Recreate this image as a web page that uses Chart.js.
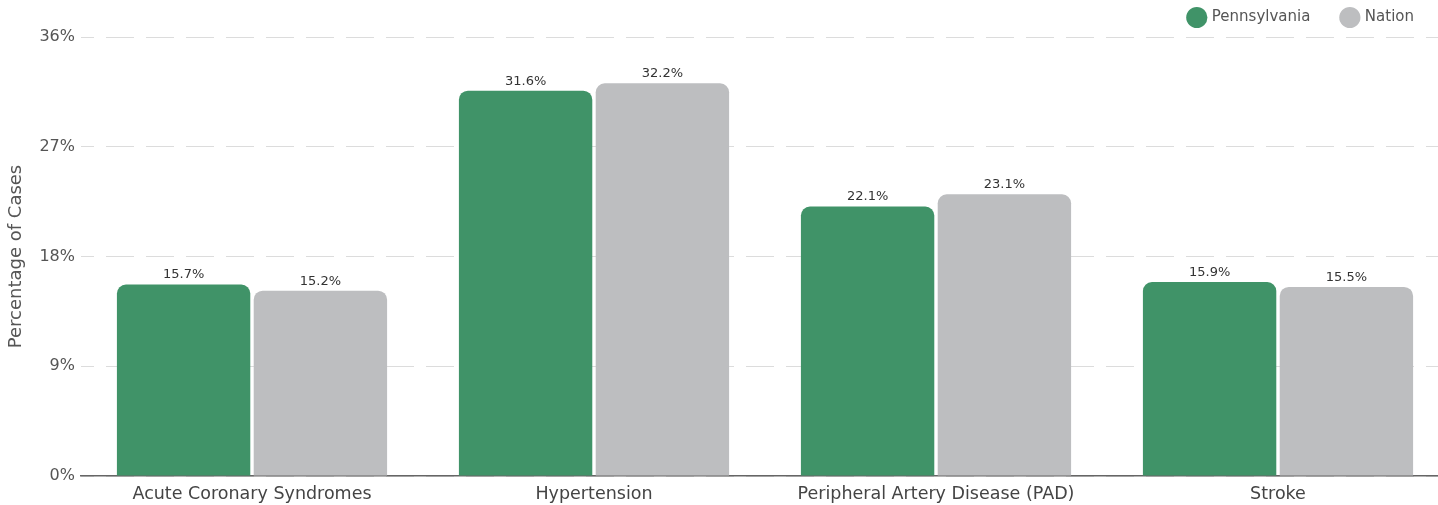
<!DOCTYPE html>
<html>
<head>
<meta charset="utf-8">
<script src="https://cdn.jsdelivr.net/npm/chart.js@4.4.1/dist/chart.umd.min.js"></script>
<style>
    html, body { margin: 0; padding: 0; background: #fff; overflow: hidden; }
    .chart_wrap { position: relative; width: 1452px; height: 505px; }
</style>
</head>
<body>
<div class="chart_wrap">
    <canvas id="chart"></canvas>
</div>
<script>
const categories = [
    "Acute Coronary Syndromes",
    "Hypertension",
    "Peripheral Artery Disease (PAD)",
    "Stroke",
];
const pennsylvaniaValues = [15.7, 31.6, 22.1, 15.9];
const nationValues = [15.2, 32.2, 23.1, 15.5];
const yTicks = [0, 9, 18, 27, 36];

const fontFamily = "'DejaVu Sans', sans-serif";

// labels on top of each bar
const barLabels = {
    id: "barLabels",
    afterDatasetsDraw(chart) {
        const {ctx} = chart;
        ctx.save();
        ctx.font = "13px " + fontFamily;
        ctx.fillStyle = "#333";
        ctx.textAlign = "center";
        ctx.textBaseline = "bottom";
        chart.data.datasets.forEach((ds, i) => {
            chart.getDatasetMeta(i).data.forEach((bar, j) => {
                ctx.fillText(ds.data[j].toFixed(1) + "%", bar.x, bar.y - 3);
            });
        });
        ctx.restore();
    },
};

// legend items need a wide gap but a short box: move the box up and in
const legendShift = {
    id: "legendShift",
    afterLayout(chart) {
        const lg = chart.legend;
        if (lg) {
            lg.top -= 22;
            lg.left -= 3;
            lg.right -= 3;
        }
    },
};

Chart.register(barLabels, legendShift);

new Chart(document.getElementById("chart").getContext("2d"), {
    type: "bar",
    data: {
        labels: categories,
        datasets: [
            {
                label: "Pennsylvania",
                data: pennsylvaniaValues,
                backgroundColor: "#409368",
                borderRadius: {topLeft: 9, topRight: 9, bottomLeft: 0, bottomRight: 0},
                borderSkipped: "start",
                barPercentage: 0.975,
                categoryPercentage: 0.8,
            },
            {
                label: "Nation",
                data: nationValues,
                backgroundColor: "#bdbec0",
                borderRadius: {topLeft: 9, topRight: 9, bottomLeft: 0, bottomRight: 0},
                borderSkipped: "start",
                barPercentage: 0.975,
                categoryPercentage: 0.8,
            },
        ],
    },
    options: {
        responsive: true,
        maintainAspectRatio: false,
        animation: false,
        layout: {
            padding: {top: 0, right: 3, left: 0, bottom: 0},
        },
        scales: {
            x: {
                afterFit(axis) {
                    axis.height = 29;
                },
                grid: {display: false, drawTicks: false, tickLength: 0},
                border: {display: true, color: "#666", width: 1.5},
                ticks: {
                    color: "#444",
                    padding: 8,
                    font: {family: fontFamily, size: 17.5},
                },
            },
            y: {
                min: 0,
                max: 36,
                afterBuildTicks(axis) {
                    axis.ticks = yTicks.map((v) => ({value: v}));
                },
                afterFit(axis) {
                    axis.width = 81;
                },
                border: {display: false, dash: [28, 12], dashOffset: 15},
                grid: {
                    color: "#dcdcdc",
                    lineWidth: 1,
                    drawTicks: false,
                },
                ticks: {
                    color: "#555",
                    padding: 6,
                    font: {family: fontFamily, size: 16},
                    callback: (v) => v + "%",
                },
                title: {
                    display: true,
                    text: "Percentage of Cases",
                    color: "#555",
                    padding: {top: 6, bottom: 4},
                    font: {family: fontFamily, size: 18},
                },
            },
        },
        plugins: {
            legend: {
                position: "top",
                align: "end",
                maxHeight: 37,
                labels: {
                    usePointStyle: true,
                    pointStyle: "circle",
                    boxWidth: 17,
                    boxHeight: 17,
                    padding: 32,
                    color: "#555",
                    font: {family: fontFamily, size: 15},
                },
            },
            tooltip: {enabled: false},
        },
    },
});
</script>
</body>
</html>
